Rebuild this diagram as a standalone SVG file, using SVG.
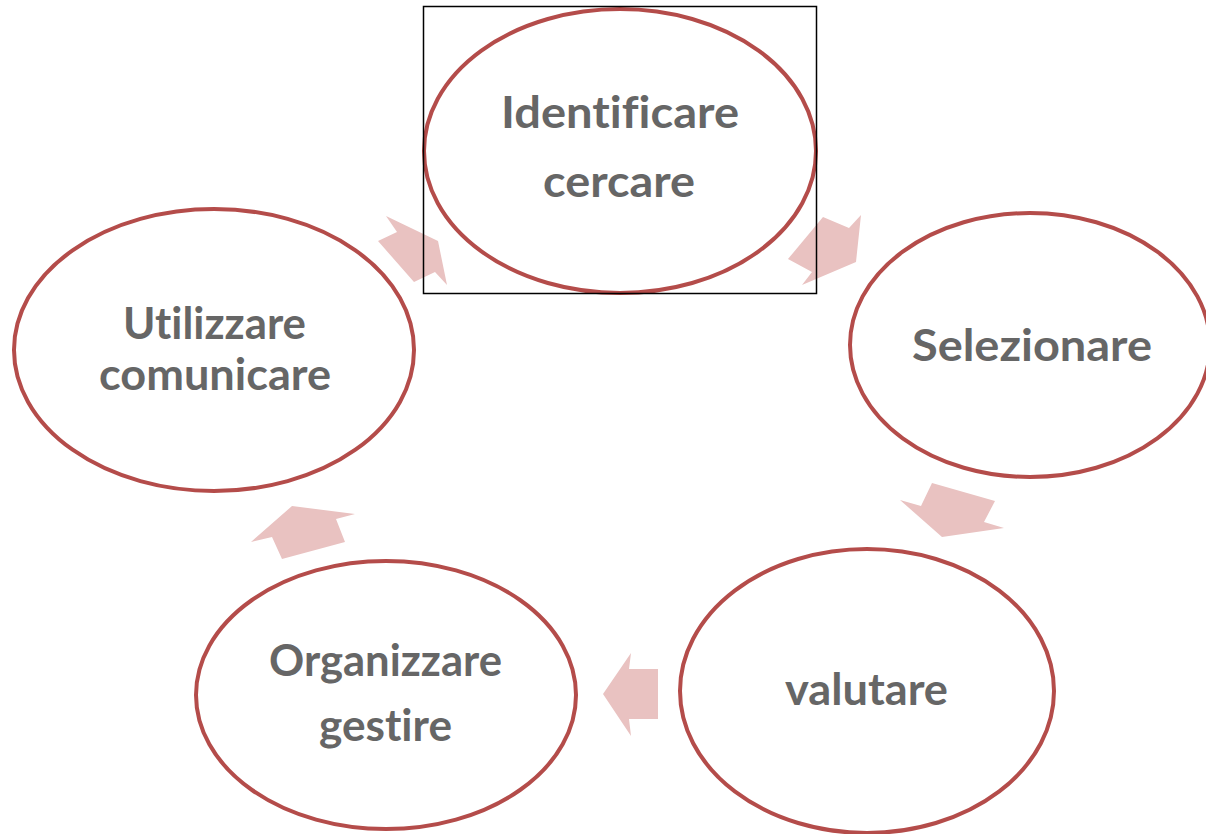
<svg xmlns="http://www.w3.org/2000/svg" width="1206" height="834" viewBox="0 0 1206 834">
<style>
.node ellipse{fill:#ffffff;stroke:#b44c4a;stroke-width:4}
.lbl{font-family:Lato,"Open Sans","Liberation Sans",sans-serif;font-weight:bold;font-size:44px;fill:#666666;font-variant-ligatures:none;font-feature-settings:"liga" 0}
.arr polygon{fill:#e9c2c1;stroke:none}
</style>
<rect width="1206" height="834" fill="#ffffff"/>
<g class="arr" id="connectors">
<polygon points="386,216 438,241 447,285 435,272 414,282 378,241 397,232"/>
<polygon points="788,259 823,217 849,228 861,215 856,262 802,285 812,272"/>
<polygon points="932,483 995,501 984,522 1004,528 942,537 900,500 921,506"/>
<polygon points="603,694 631,653 629,669 658,669 658,719 629,719 631,736"/>
<polygon points="292,506 355,514 336,519 345,542 282,559 272,537 251,542"/>
</g>
<g class="node" id="n-identificare">
<ellipse cx="620" cy="151" rx="196" ry="142"/>
<rect x="423.5" y="6.5" width="393" height="287" fill="none" stroke="#000" stroke-width="1.5"/>
<text class="lbl" x="501" y="128" textLength="238" lengthAdjust="spacingAndGlyphs">Identificare</text>
<text class="lbl" x="543" y="197" textLength="152" lengthAdjust="spacingAndGlyphs">cercare</text>
</g>
<g class="node" id="n-selezionare">
<ellipse cx="1030" cy="345" rx="180" ry="132"/>
<text class="lbl" x="912" y="361" textLength="240" lengthAdjust="spacingAndGlyphs">Selezionare</text>
</g>
<g class="node" id="n-valutare">
<ellipse cx="867" cy="691" rx="187" ry="142"/>
<text class="lbl" x="785" y="705" textLength="163" lengthAdjust="spacingAndGlyphs">valutare</text>
</g>
<g class="node" id="n-organizzare">
<ellipse cx="386" cy="695" rx="190" ry="134"/>
<text class="lbl" x="269" y="676" textLength="233" lengthAdjust="spacingAndGlyphs">Organizzare</text>
<text class="lbl" x="319" y="741" textLength="133" lengthAdjust="spacingAndGlyphs">gestire</text>
</g>
<g class="node" id="n-utilizzare">
<ellipse cx="214" cy="350" rx="200" ry="141"/>
<text class="lbl" x="123" y="339" textLength="183" lengthAdjust="spacingAndGlyphs">Utilizzare</text>
<text class="lbl" x="99" y="390" textLength="232" lengthAdjust="spacingAndGlyphs">comunicare</text>
</g>
</svg>
